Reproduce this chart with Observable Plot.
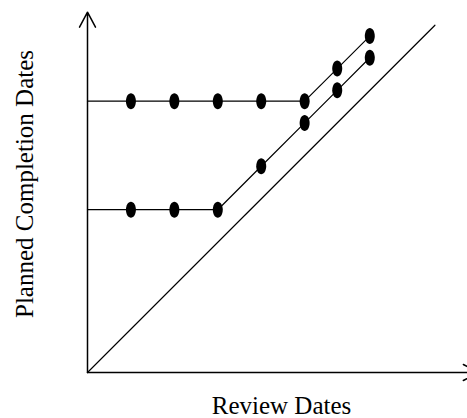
<!DOCTYPE html>
<html>
<head>
<meta charset="utf-8">
<script src="https://cdn.jsdelivr.net/npm/d3@7"></script>
<script src="https://cdn.jsdelivr.net/npm/@observablehq/plot@0.6"></script>
<style>
  html, body { margin: 0; padding: 0; background: #fff; overflow: hidden; }
  #chart svg { display: block; overflow: visible; }
</style>
</head>
<body>
<div id="chart"></div>
<script>
// Review dates (x) and planned completion dates (y), abstract time units
const reviewDates = [1, 2, 3, 4, 5, 5.75, 6.5];
const upperPlanned = [6.25, 6.25, 6.25, 6.25, 6.25, 7, 7.75];
const lowerPlanned = [3.75, 3.75, 3.75, 4.75, 5.75, 6.5, 7.25];
const diagonalEnds = [0, 8];
const xAxisEnd = 9;
const yAxisEnd = 8.3;
const xLabel = "Review Dates";
const yLabel = "Planned Completion Dates";

const upper = reviewDates.map((x, i) => ({x, y: upperPlanned[i]}));
const lower = reviewDates.map((x, i) => ({x, y: lowerPlanned[i]}));
const upperLine = [{x: 0, y: upperPlanned[0]}, ...upper];
const lowerLine = [{x: 0, y: lowerPlanned[0]}, ...lower];
const diagonal = diagonalEnds.map(v => ({x: v, y: v}));
const axes = [
  {x1: 0, y1: 0, x2: 0, y2: yAxisEnd},
  {x1: 0, y1: 0, x2: xAxisEnd, y2: 0}
];

const ellipse = {
  draw(ctx) {
    const rx = 5, ry = 8, k = 0.5523;
    ctx.moveTo(rx, 0);
    ctx.bezierCurveTo(rx, ry * k, rx * k, ry, 0, ry);
    ctx.bezierCurveTo(-rx * k, ry, -rx, ry * k, -rx, 0);
    ctx.bezierCurveTo(-rx, -ry * k, -rx * k, -ry, 0, -ry);
    ctx.bezierCurveTo(rx * k, -ry, rx, -ry * k, rx, 0);
    ctx.closePath();
  }
};

const font = "Liberation Serif, Times New Roman, serif";

const chart = Plot.plot({
  width: 467,
  height: 418,
  marginLeft: 87,
  marginRight: 0,
  marginTop: 3,
  marginBottom: 46,
  x: {domain: [0, 8.75], axis: null},
  y: {domain: [0, 8.5], axis: null},
  style: {fontFamily: font, background: "#fff", overflow: "visible"},
  marks: [
    Plot.arrow(axes, {x1: "x1", y1: "y1", x2: "x2", y2: "y2", stroke: "black", strokeWidth: 1.5, headLength: 17, headAngle: 56}),
    Plot.line(diagonal, {x: "x", y: "y", stroke: "black", strokeWidth: 1.2}),
    Plot.line(upperLine, {x: "x", y: "y", stroke: "black", strokeWidth: 1.2}),
    Plot.line(lowerLine, {x: "x", y: "y", stroke: "black", strokeWidth: 1.2}),
    Plot.dot(upper, {x: "x", y: "y", symbol: ellipse, r: 5, fill: "black", stroke: "none"}),
    Plot.dot(lower, {x: "x", y: "y", symbol: ellipse, r: 5, fill: "black", stroke: "none"}),
    Plot.text([xLabel], {text: d => d, frameAnchor: "bottom", dx: 4, dy: 33, fontSize: 25, fill: "black", textAnchor: "middle", lineAnchor: "middle"}),
    Plot.text([yLabel], {text: d => d, frameAnchor: "left", dx: -63, dy: -4, rotate: -90, fontSize: 25, fill: "black", textAnchor: "middle", lineAnchor: "middle"})
  ]
});
document.getElementById("chart").appendChild(chart);
</script>
</body>
</html>
